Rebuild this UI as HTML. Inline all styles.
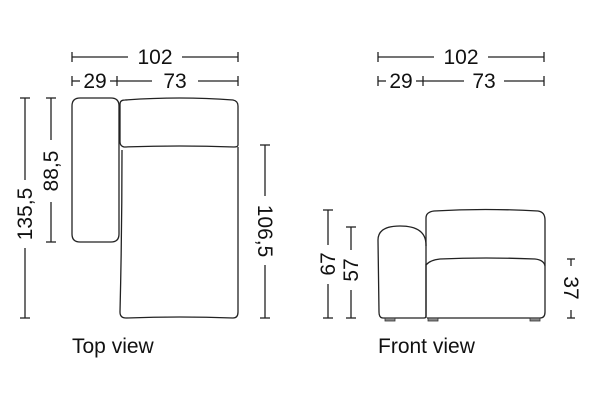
<!DOCTYPE html>
<html><head><style>html,body{margin:0;padding:0;background:#fff}svg{display:block}</style></head>
<body>
<svg width="600" height="400" viewBox="0 0 600 400" xmlns="http://www.w3.org/2000/svg" font-family="Liberation Sans, sans-serif" font-size="21" fill="#111">
<g stroke="#222" stroke-width="1.3" fill="none">
<line x1="72" y1="57" x2="128" y2="57"/><line x1="182" y1="57" x2="238" y2="57"/>
<line x1="72" y1="52" x2="72" y2="62"/><line x1="238" y1="52" x2="238" y2="62"/>
<line x1="72" y1="81" x2="80" y2="81"/><line x1="110" y1="81" x2="117" y2="81"/><line x1="117" y1="81" x2="152" y2="81"/><line x1="198" y1="81" x2="238" y2="81"/>
<line x1="72" y1="76" x2="72" y2="86"/><line x1="117" y1="76" x2="117" y2="86"/><line x1="238" y1="76" x2="238" y2="86"/>
<line x1="25" y1="98" x2="25" y2="180"/><line x1="25" y1="248" x2="25" y2="318"/>
<line x1="20" y1="98" x2="30" y2="98"/><line x1="20" y1="318" x2="30" y2="318"/>
<line x1="51" y1="98" x2="51" y2="140"/><line x1="51" y1="202" x2="51" y2="242"/>
<line x1="46" y1="98" x2="56" y2="98"/><line x1="46" y1="242" x2="56" y2="242"/>
<line x1="265" y1="145" x2="265" y2="196"/><line x1="265" y1="265" x2="265" y2="318"/>
<line x1="260" y1="145" x2="270" y2="145"/><line x1="260" y1="318" x2="270" y2="318"/>
<path d="M80 98 H111 Q119 98 119 106 V234 Q119 242 111 242 H80 Q72 242 72 234 V106 Q72 98 80 98 Z"/>
<path d="M125 100 Q180 96 233 100 Q238 101 238 106 V145 Q238 147 234 147 Q180 145 124 147 Q120 146 120 142 V104 Q120 100 125 100 Z"/>
<path d="M122 150 Q122 230 120 312 Q120 318 126 318 Q180 316 233 318 Q238 318 238 312 V147"/>
<line x1="378" y1="57" x2="434" y2="57"/><line x1="488" y1="57" x2="544" y2="57"/>
<line x1="378" y1="52" x2="378" y2="62"/><line x1="544" y1="52" x2="544" y2="62"/>
<line x1="378" y1="81" x2="386" y2="81"/><line x1="416" y1="81" x2="423" y2="81"/><line x1="423" y1="81" x2="464" y2="81"/><line x1="504" y1="81" x2="544" y2="81"/>
<line x1="378" y1="76" x2="378" y2="86"/><line x1="423" y1="76" x2="423" y2="86"/><line x1="544" y1="76" x2="544" y2="86"/>
<line x1="328" y1="210" x2="328" y2="245"/><line x1="328" y1="284" x2="328" y2="318"/>
<line x1="323" y1="210" x2="333" y2="210"/><line x1="323" y1="318" x2="333" y2="318"/>
<line x1="351" y1="227" x2="351" y2="250"/><line x1="351" y1="290" x2="351" y2="318"/>
<line x1="346" y1="227" x2="356" y2="227"/><line x1="346" y1="318" x2="356" y2="318"/>
<line x1="571" y1="259" x2="571" y2="266"/><line x1="571" y1="310" x2="571" y2="318"/>
<line x1="567" y1="259" x2="575" y2="259"/><line x1="567" y1="318" x2="575" y2="318"/>
<path d="M378 240 Q378 226 400 226 Q426 226 426 245 V316 Q426 318 424 318 H383 Q379 318 379 312 Z"/>
<path d="M426 246 V218 Q426 212 434 211 Q485 208 538 211 Q545 212 545 220 V312 Q545 318 540 318 H427"/>
<path d="M426 265 Q430 260 440 259 Q485 257 535 259 Q544 260 545 266"/>
<line x1="426" y1="264" x2="426" y2="318"/>
</g>
<g fill="#888" stroke="#333" stroke-width="0.8">
<rect x="385" y="318" width="10" height="3"/><rect x="428" y="318" width="10" height="3"/><rect x="530" y="318" width="10" height="3"/>
</g>
<text x="155" y="64" text-anchor="middle">102</text>
<text x="95" y="88" text-anchor="middle">29</text>
<text x="175" y="88" text-anchor="middle">73</text>
<text x="461" y="64" text-anchor="middle">102</text>
<text x="401" y="88" text-anchor="middle">29</text>
<text x="484" y="88" text-anchor="middle">73</text>
<text transform="translate(32,214) rotate(-90)" text-anchor="middle">135,5</text>
<text transform="translate(58,171) rotate(-90)" text-anchor="middle">88,5</text>
<text transform="translate(258,231) rotate(90)" text-anchor="middle">106,5</text>
<text transform="translate(335,264) rotate(-90)" text-anchor="middle">67</text>
<text transform="translate(358,270) rotate(-90)" text-anchor="middle">57</text>
<text transform="translate(564,288) rotate(90)" text-anchor="middle">37</text>
<text x="72" y="353">Top view</text>
<text x="378" y="353">Front view</text>
</svg>
</body></html>
